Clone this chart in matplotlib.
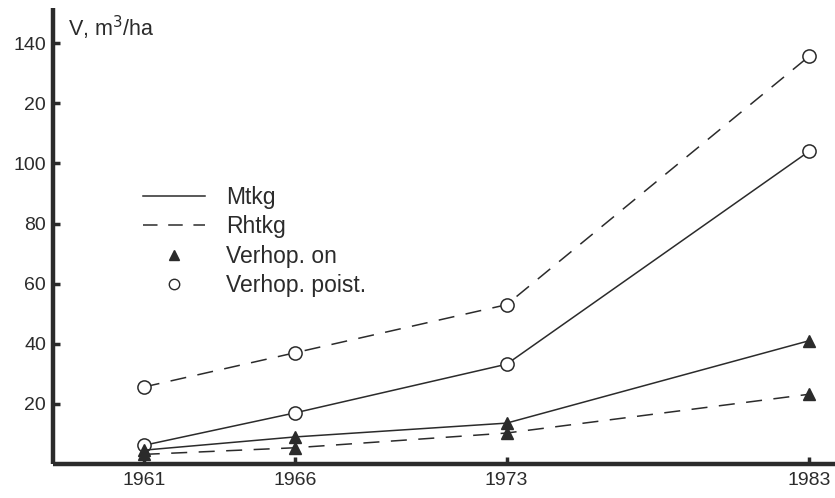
import matplotlib
matplotlib.use("Agg")
import matplotlib.pyplot as plt
from matplotlib.lines import Line2D

plt.rcParams['font.family'] = ['Liberation Sans', 'DejaVu Sans']

years = [1961, 1966, 1973, 1983]
mtkg_on = [4.6, 9.0, 13.6, 41.0]
mtkg_poist = [6.2, 17.0, 33.2, 104.0]
rhtkg_on = [3.2, 5.4, 10.3, 23.2]
rhtkg_poist = [25.6, 37.0, 53.0, 135.6]

ytick_vals = [20, 40, 60, 80, 100, 120, 140]
ytick_labels = ['20', '40', '60', '80', '100', '20', '140']

ink = '#2b2b2b'
dash = (0, (10.5, 7.5))

fig = plt.figure(figsize=(8.35, 4.98), dpi=100)
ax = fig.add_axes([53 / 835, 34 / 498, 1 - 53 / 835, 456 / 498])
ax.set_xlim(1958.0, 1983.86)
ax.set_ylim(0, 151.7)

lw = 1.1
ms_c = 9.5
ms_t = 8
ax.plot(years, mtkg_poist, color=ink, lw=lw, ls='-', marker='o', ms=ms_c,
        mfc='white', mec=ink, mew=1.1, zorder=3)
ax.plot(years, rhtkg_poist, color=ink, lw=lw, ls=dash, marker='o', ms=ms_c,
        mfc='white', mec=ink, mew=1.1, zorder=3)
ax.plot(years, mtkg_on, color=ink, lw=lw, ls='-', marker='^', ms=ms_t,
        mfc=ink, mec=ink, zorder=3)
ax.plot(years, rhtkg_on, color=ink, lw=lw, ls=dash, marker='^', ms=ms_t,
        mfc=ink, mec=ink, zorder=3)

for side in ('top', 'right'):
    ax.spines[side].set_visible(False)
for side in ('left', 'bottom'):
    ax.spines[side].set_linewidth(3.2)
    ax.spines[side].set_color(ink)
    ax.spines[side].set_capstyle('butt')

ax.set_xticks(years)
ax.set_xticklabels([str(y) for y in years])
ax.set_yticks(ytick_vals)
ax.set_yticklabels(ytick_labels)
ax.tick_params(axis='both', direction='in', length=5, width=2.5, color=ink,
               labelsize=14, labelcolor=ink)
ax.tick_params(axis='y', pad=5)
ax.tick_params(axis='x', pad=6)

fig.text(68 / 835, 1 - 28 / 498, r'V, m$^3$/ha', fontsize=15.5, color=ink,
         va='center', ha='left')

handles = [
    Line2D([], [], color=ink, lw=lw, ls='-'),
    Line2D([], [], color=ink, lw=lw, ls=(0, (9.5, 7.0))),
    Line2D([], [], color=ink, ls='none', marker='^', ms=7, mfc=ink, mec=ink),
    Line2D([], [], color=ink, ls='none', marker='o', ms=7.5, mfc='white',
           mec=ink, mew=1.0),
]
labels = ['Mtkg', 'Rhtkg', 'Verhop. on', 'Verhop. poist.']
leg = ax.legend(handles, labels, loc='upper left',
                bbox_to_anchor=(143 / 835, 1 - 186 / 498),
                bbox_transform=fig.transFigure, frameon=False,
                fontsize=16.5, handlelength=2.7, handletextpad=0.92,
                labelspacing=0.28, borderpad=0, borderaxespad=0)
for t in leg.get_texts():
    t.set_color(ink)

fig.savefig('out.png', dpi=100, facecolor='white')
